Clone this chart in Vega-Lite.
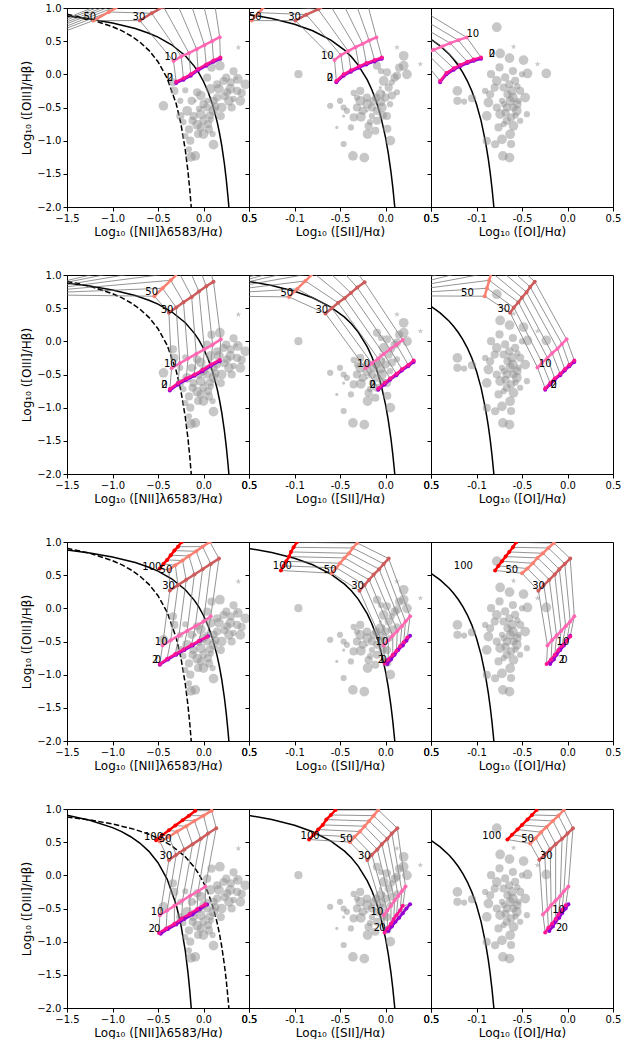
{
"$schema":"https://vega.github.io/schema/vega-lite/v6.json",
"padding":{"left":20,"top":2,"right":0,"bottom":0},
"config":{"font":"DejaVu Sans","view":{"stroke":"black","strokeWidth":1},
"axis":{"grid":false,"domainColor":"black","tickColor":"black","labelColor":"black","titleColor":"black","labelFont":"DejaVu Sans","titleFont":"DejaVu Sans","labelFontSize":10,"titleFontSize":12,"titleFontWeight":"normal","tickSize":4,"labelFlush":false,"labelPadding":2,"titlePadding":3,"labelOverlap":false},
"text":{"font":"DejaVu Sans"}},
"datasets":{
"cv":[
{"c":1,"t":"ke","x":-1.5,"y":0.880},{"c":1,"t":"ke","x":-1.25,"y":0.835},{"c":1,"t":"ke","x":-1.0,"y":0.775},{"c":1,"t":"ke","x":-0.75,"y":0.690},{"c":1,"t":"ke","x":-0.6,"y":0.620},{"c":1,"t":"ke","x":-0.5,"y":0.561},{"c":1,"t":"ke","x":-0.35,"y":0.446},{"c":1,"t":"ke","x":-0.2,"y":0.280},{"c":1,"t":"ke","x":-0.1,"y":0.120},{"c":1,"t":"ke","x":-0.05,"y":0.017},{"c":1,"t":"ke","x":0.0,"y":-0.108},{"c":1,"t":"ke","x":0.05,"y":-0.262},{"c":1,"t":"ke","x":0.1,"y":-0.459},{"c":1,"t":"ke","x":0.15,"y":-0.716},{"c":1,"t":"ke","x":0.175,"y":-0.878},{"c":1,"t":"ke","x":0.2,"y":-1.069},{"c":1,"t":"ke","x":0.23,"y":-1.352},{"c":1,"t":"ke","x":0.25,"y":-1.583},{"c":1,"t":"ke","x":0.27,"y":-1.86},{"c":1,"t":"ke","x":0.279,"y":-2.004},
{"c":1,"t":"ka","x":-1.5,"y":0.906},{"c":1,"t":"ka","x":-1.25,"y":0.831},{"c":1,"t":"ka","x":-1.0,"y":0.719},{"c":1,"t":"ka","x":-0.9,"y":0.658},{"c":1,"t":"ka","x":-0.8,"y":0.582},{"c":1,"t":"ka","x":-0.7,"y":0.487},{"c":1,"t":"ka","x":-0.6,"y":0.362},{"c":1,"t":"ka","x":-0.5,"y":0.191},{"c":1,"t":"ka","x":-0.4,"y":-0.056},{"c":1,"t":"ka","x":-0.3,"y":-0.443},{"c":1,"t":"ka","x":-0.25,"y":-0.733},{"c":1,"t":"ka","x":-0.2,"y":-1.14},{"c":1,"t":"ka","x":-0.17,"y":-1.473},{"c":1,"t":"ka","x":-0.15,"y":-1.75},{"c":1,"t":"ka","x":-0.135,"y":-1.997},{"c":1,"t":"ka","x":-0.13,"y":-2.089},
{"c":2,"t":"ke","x":-1.5,"y":0.904},{"c":2,"t":"ke","x":-1.25,"y":0.841},{"c":2,"t":"ke","x":-1.0,"y":0.755},{"c":2,"t":"ke","x":-0.8,"y":0.657},{"c":2,"t":"ke","x":-0.6,"y":0.517},{"c":2,"t":"ke","x":-0.45,"y":0.365},{"c":2,"t":"ke","x":-0.375,"y":0.264},{"c":2,"t":"ke","x":-0.3,"y":0.139},{"c":2,"t":"ke","x":-0.2,"y":-0.085},{"c":2,"t":"ke","x":-0.15,"y":-0.232},{"c":2,"t":"ke","x":-0.1,"y":-0.414},{"c":2,"t":"ke","x":-0.05,"y":-0.646},{"c":2,"t":"ke","x":0.0,"y":-0.95},{"c":2,"t":"ke","x":0.03,"y":-1.183},{"c":2,"t":"ke","x":0.06,"y":-1.469},{"c":2,"t":"ke","x":0.08,"y":-1.70},{"c":2,"t":"ke","x":0.1,"y":-1.973},{"c":2,"t":"ke","x":0.102,"y":-2.003},
{"c":3,"t":"ke","x":-1.5,"y":0.528},{"c":3,"t":"ke","x":-1.4,"y":0.429},{"c":3,"t":"ke","x":-1.3,"y":0.302},{"c":3,"t":"ke","x":-1.25,"y":0.224},{"c":3,"t":"ke","x":-1.2,"y":0.133},{"c":3,"t":"ke","x":-1.15,"y":0.026},{"c":3,"t":"ke","x":-1.1,"y":-0.101},{"c":3,"t":"ke","x":-1.05,"y":-0.257},{"c":3,"t":"ke","x":-1.0,"y":-0.450},{"c":3,"t":"ke","x":-0.95,"y":-0.698},{"c":3,"t":"ke","x":-0.9,"y":-1.025},{"c":3,"t":"ke","x":-0.87,"y":-1.277},{"c":3,"t":"ke","x":-0.85,"y":-1.478},{"c":3,"t":"ke","x":-0.83,"y":-1.712},{"c":3,"t":"ke","x":-0.81,"y":-1.988},{"c":3,"t":"ke","x":-0.805,"y":-2.07}
],
"gr":[
{"p":11,"k":0,"i":0,"x":-0.30,"y":-0.13},{"p":11,"k":0,"i":1,"x":-0.22,"y":-0.08},{"p":11,"k":0,"i":2,"x":-0.14,"y":-0.02},{"p":11,"k":0,"i":3,"x":-0.06,"y":0.06},{"p":11,"k":0,"i":4,"x":0.03,"y":0.13},{"p":11,"k":0,"i":5,"x":0.11,"y":0.19},{"p":11,"k":0,"i":6,"x":0.185,"y":0.235},
{"p":11,"k":2,"i":0,"x":-0.30,"y":-0.11},{"p":11,"k":2,"i":1,"x":-0.22,"y":-0.06},{"p":11,"k":2,"i":2,"x":-0.14,"y":0.0},{"p":11,"k":2,"i":3,"x":-0.06,"y":0.08},{"p":11,"k":2,"i":4,"x":0.03,"y":0.15},{"p":11,"k":2,"i":5,"x":0.11,"y":0.21},{"p":11,"k":2,"i":6,"x":0.185,"y":0.255},
{"p":11,"k":10,"i":0,"x":-0.33,"y":0.20},{"p":11,"k":10,"i":1,"x":-0.245,"y":0.27},{"p":11,"k":10,"i":2,"x":-0.16,"y":0.32},{"p":11,"k":10,"i":3,"x":-0.075,"y":0.38},{"p":11,"k":10,"i":4,"x":0.01,"y":0.44},{"p":11,"k":10,"i":5,"x":0.095,"y":0.50},{"p":11,"k":10,"i":6,"x":0.178,"y":0.56},
{"p":11,"k":30,"i":0,"x":-0.70,"y":0.81},{"p":11,"k":30,"i":1,"x":-0.57,"y":0.92},{"p":11,"k":30,"i":2,"x":-0.44,"y":1.02},{"p":11,"k":30,"i":3,"x":-0.31,"y":1.13},{"p":11,"k":30,"i":4,"x":-0.18,"y":1.24},{"p":11,"k":30,"i":5,"x":-0.05,"y":1.34},{"p":11,"k":30,"i":6,"x":0.08,"y":1.45},
{"p":11,"k":50,"i":0,"x":-1.21,"y":0.81},{"p":11,"k":50,"i":1,"x":-1.04,"y":0.94},{"p":11,"k":50,"i":2,"x":-0.87,"y":1.07},{"p":11,"k":50,"i":3,"x":-0.70,"y":1.20},{"p":11,"k":50,"i":4,"x":-0.53,"y":1.33},{"p":11,"k":50,"i":5,"x":-0.36,"y":1.46},{"p":11,"k":50,"i":6,"x":-0.19,"y":1.59},
{"p":11,"k":100,"i":0,"x":-2.2,"y":0.30},{"p":11,"k":100,"i":1,"x":-2.2,"y":0.33},{"p":11,"k":100,"i":2,"x":-2.2,"y":0.35},{"p":11,"k":100,"i":3,"x":-2.2,"y":0.38},{"p":11,"k":100,"i":4,"x":-2.2,"y":0.40},{"p":11,"k":100,"i":5,"x":-2.2,"y":0.43},{"p":11,"k":100,"i":6,"x":-2.2,"y":0.45},
{"p":12,"k":0,"i":0,"x":-0.54,"y":-0.12},{"p":12,"k":0,"i":1,"x":-0.46,"y":-0.02},{"p":12,"k":0,"i":2,"x":-0.38,"y":0.04},{"p":12,"k":0,"i":3,"x":-0.29,"y":0.10},{"p":12,"k":0,"i":4,"x":-0.21,"y":0.15},{"p":12,"k":0,"i":5,"x":-0.12,"y":0.195},{"p":12,"k":0,"i":6,"x":-0.04,"y":0.235},
{"p":12,"k":2,"i":0,"x":-0.54,"y":-0.10},{"p":12,"k":2,"i":1,"x":-0.46,"y":0.0},{"p":12,"k":2,"i":2,"x":-0.38,"y":0.06},{"p":12,"k":2,"i":3,"x":-0.29,"y":0.12},{"p":12,"k":2,"i":4,"x":-0.21,"y":0.17},{"p":12,"k":2,"i":5,"x":-0.12,"y":0.215},{"p":12,"k":2,"i":6,"x":-0.04,"y":0.255},
{"p":12,"k":10,"i":0,"x":-0.56,"y":0.215},{"p":12,"k":10,"i":1,"x":-0.49,"y":0.29},{"p":12,"k":10,"i":2,"x":-0.41,"y":0.35},{"p":12,"k":10,"i":3,"x":-0.33,"y":0.41},{"p":12,"k":10,"i":4,"x":-0.25,"y":0.46},{"p":12,"k":10,"i":5,"x":-0.18,"y":0.51},{"p":12,"k":10,"i":6,"x":-0.10,"y":0.557},
{"p":12,"k":30,"i":0,"x":-0.99,"y":0.81},{"p":12,"k":30,"i":1,"x":-0.87,"y":0.90},{"p":12,"k":30,"i":2,"x":-0.74,"y":0.98},{"p":12,"k":30,"i":3,"x":-0.62,"y":1.07},{"p":12,"k":30,"i":4,"x":-0.50,"y":1.16},{"p":12,"k":30,"i":5,"x":-0.37,"y":1.24},{"p":12,"k":30,"i":6,"x":-0.25,"y":1.33},
{"p":12,"k":50,"i":0,"x":-1.47,"y":0.81},{"p":12,"k":50,"i":1,"x":-1.39,"y":0.93},{"p":12,"k":50,"i":2,"x":-1.31,"y":1.05},{"p":12,"k":50,"i":3,"x":-1.23,"y":1.17},{"p":12,"k":50,"i":4,"x":-1.15,"y":1.29},{"p":12,"k":50,"i":5,"x":-1.07,"y":1.41},{"p":12,"k":50,"i":6,"x":-0.99,"y":1.53},
{"p":13,"k":0,"i":0,"x":-1.40,"y":-0.12},{"p":13,"k":0,"i":1,"x":-1.33,"y":0.0},{"p":13,"k":0,"i":2,"x":-1.25,"y":0.07},{"p":13,"k":0,"i":3,"x":-1.18,"y":0.12},{"p":13,"k":0,"i":4,"x":-1.10,"y":0.17},{"p":13,"k":0,"i":5,"x":-1.03,"y":0.205},{"p":13,"k":0,"i":6,"x":-0.95,"y":0.235},
{"p":13,"k":2,"i":0,"x":-1.40,"y":-0.10},{"p":13,"k":2,"i":1,"x":-1.33,"y":0.02},{"p":13,"k":2,"i":2,"x":-1.25,"y":0.09},{"p":13,"k":2,"i":3,"x":-1.18,"y":0.14},{"p":13,"k":2,"i":4,"x":-1.10,"y":0.19},{"p":13,"k":2,"i":5,"x":-1.03,"y":0.225},{"p":13,"k":2,"i":6,"x":-0.95,"y":0.255},
{"p":13,"k":10,"i":0,"x":-1.62,"y":0.27},{"p":13,"k":10,"i":1,"x":-1.55,"y":0.32},{"p":13,"k":10,"i":2,"x":-1.47,"y":0.37},{"p":13,"k":10,"i":3,"x":-1.38,"y":0.42},{"p":13,"k":10,"i":4,"x":-1.29,"y":0.47},{"p":13,"k":10,"i":5,"x":-1.20,"y":0.515},{"p":13,"k":10,"i":6,"x":-1.107,"y":0.557},
{"p":13,"k":30,"i":0,"x":-2.0,"y":0.60},{"p":13,"k":30,"i":1,"x":-1.95,"y":0.67},{"p":13,"k":30,"i":2,"x":-1.9,"y":0.74},{"p":13,"k":30,"i":3,"x":-1.85,"y":0.81},{"p":13,"k":30,"i":4,"x":-1.8,"y":0.88},{"p":13,"k":30,"i":5,"x":-1.75,"y":0.96},{"p":13,"k":30,"i":6,"x":-1.7,"y":1.05},
{"p":21,"k":0,"i":0,"x":-0.37,"y":-0.74},{"p":21,"k":0,"i":1,"x":-0.28,"y":-0.65},{"p":21,"k":0,"i":2,"x":-0.19,"y":-0.58},{"p":21,"k":0,"i":3,"x":-0.10,"y":-0.52},{"p":21,"k":0,"i":4,"x":-0.01,"y":-0.45},{"p":21,"k":0,"i":5,"x":0.08,"y":-0.37},{"p":21,"k":0,"i":6,"x":0.178,"y":-0.30},
{"p":21,"k":2,"i":0,"x":-0.37,"y":-0.72},{"p":21,"k":2,"i":1,"x":-0.28,"y":-0.63},{"p":21,"k":2,"i":2,"x":-0.19,"y":-0.56},{"p":21,"k":2,"i":3,"x":-0.10,"y":-0.50},{"p":21,"k":2,"i":4,"x":-0.01,"y":-0.43},{"p":21,"k":2,"i":5,"x":0.08,"y":-0.35},{"p":21,"k":2,"i":6,"x":0.178,"y":-0.28},
{"p":21,"k":10,"i":0,"x":-0.35,"y":-0.405},{"p":21,"k":10,"i":1,"x":-0.26,"y":-0.33},{"p":21,"k":10,"i":2,"x":-0.17,"y":-0.26},{"p":21,"k":10,"i":3,"x":-0.08,"y":-0.19},{"p":21,"k":10,"i":4,"x":0.01,"y":-0.12},{"p":21,"k":10,"i":5,"x":0.10,"y":-0.05},{"p":21,"k":10,"i":6,"x":0.19,"y":0.03},
{"p":21,"k":30,"i":0,"x":-0.38,"y":0.43},{"p":21,"k":30,"i":1,"x":-0.30,"y":0.51},{"p":21,"k":30,"i":2,"x":-0.22,"y":0.59},{"p":21,"k":30,"i":3,"x":-0.13,"y":0.67},{"p":21,"k":30,"i":4,"x":-0.05,"y":0.75},{"p":21,"k":30,"i":5,"x":0.03,"y":0.83},{"p":21,"k":30,"i":6,"x":0.11,"y":0.90},
{"p":21,"k":50,"i":0,"x":-0.54,"y":0.68},{"p":21,"k":50,"i":1,"x":-0.45,"y":0.80},{"p":21,"k":50,"i":2,"x":-0.36,"y":0.92},{"p":21,"k":50,"i":3,"x":-0.27,"y":1.04},{"p":21,"k":50,"i":4,"x":-0.18,"y":1.16},{"p":21,"k":50,"i":5,"x":-0.09,"y":1.28},{"p":21,"k":50,"i":6,"x":0.0,"y":1.40},
{"p":21,"k":100,"i":0,"x":-2.3,"y":0.71},{"p":21,"k":100,"i":1,"x":-2.3,"y":0.70},{"p":21,"k":100,"i":2,"x":-2.3,"y":0.69},{"p":21,"k":100,"i":3,"x":-2.3,"y":0.68},{"p":21,"k":100,"i":4,"x":-2.3,"y":0.67},{"p":21,"k":100,"i":5,"x":-2.3,"y":0.67},{"p":21,"k":100,"i":6,"x":-2.3,"y":0.66},
{"p":22,"k":0,"i":0,"x":-0.08,"y":-0.73},{"p":22,"k":0,"i":1,"x":-0.01,"y":-0.65},{"p":22,"k":0,"i":2,"x":0.05,"y":-0.58},{"p":22,"k":0,"i":3,"x":0.12,"y":-0.51},{"p":22,"k":0,"i":4,"x":0.18,"y":-0.44},{"p":22,"k":0,"i":5,"x":0.25,"y":-0.375},{"p":22,"k":0,"i":6,"x":0.31,"y":-0.31},
{"p":22,"k":2,"i":0,"x":-0.08,"y":-0.71},{"p":22,"k":2,"i":1,"x":-0.01,"y":-0.63},{"p":22,"k":2,"i":2,"x":0.05,"y":-0.56},{"p":22,"k":2,"i":3,"x":0.12,"y":-0.49},{"p":22,"k":2,"i":4,"x":0.18,"y":-0.42},{"p":22,"k":2,"i":5,"x":0.25,"y":-0.355},{"p":22,"k":2,"i":6,"x":0.31,"y":-0.29},
{"p":22,"k":10,"i":0,"x":-0.22,"y":-0.405},{"p":22,"k":10,"i":1,"x":-0.15,"y":-0.33},{"p":22,"k":10,"i":2,"x":-0.08,"y":-0.26},{"p":22,"k":10,"i":3,"x":-0.02,"y":-0.19},{"p":22,"k":10,"i":4,"x":0.05,"y":-0.12},{"p":22,"k":10,"i":5,"x":0.12,"y":-0.05},{"p":22,"k":10,"i":6,"x":0.19,"y":0.02},
{"p":22,"k":30,"i":0,"x":-0.66,"y":0.42},{"p":22,"k":30,"i":1,"x":-0.59,"y":0.50},{"p":22,"k":30,"i":2,"x":-0.52,"y":0.58},{"p":22,"k":30,"i":3,"x":-0.45,"y":0.65},{"p":22,"k":30,"i":4,"x":-0.38,"y":0.73},{"p":22,"k":30,"i":5,"x":-0.31,"y":0.81},{"p":22,"k":30,"i":6,"x":-0.23,"y":0.89},
{"p":22,"k":50,"i":0,"x":-1.06,"y":0.67},{"p":22,"k":50,"i":1,"x":-0.97,"y":0.79},{"p":22,"k":50,"i":2,"x":-0.88,"y":0.91},{"p":22,"k":50,"i":3,"x":-0.79,"y":1.03},{"p":22,"k":50,"i":4,"x":-0.70,"y":1.15},{"p":22,"k":50,"i":5,"x":-0.61,"y":1.27},{"p":22,"k":50,"i":6,"x":-0.52,"y":1.39},
{"p":22,"k":100,"i":0,"x":-2.3,"y":0.69},{"p":22,"k":100,"i":1,"x":-2.3,"y":0.68},{"p":22,"k":100,"i":2,"x":-2.3,"y":0.67},{"p":22,"k":100,"i":3,"x":-2.3,"y":0.66},{"p":22,"k":100,"i":4,"x":-2.3,"y":0.65},{"p":22,"k":100,"i":5,"x":-2.3,"y":0.64},{"p":22,"k":100,"i":6,"x":-2.3,"y":0.63},
{"p":23,"k":0,"i":0,"x":-0.245,"y":-0.73},{"p":23,"k":0,"i":1,"x":-0.19,"y":-0.65},{"p":23,"k":0,"i":2,"x":-0.14,"y":-0.58},{"p":23,"k":0,"i":3,"x":-0.08,"y":-0.51},{"p":23,"k":0,"i":4,"x":-0.03,"y":-0.44},{"p":23,"k":0,"i":5,"x":0.02,"y":-0.375},{"p":23,"k":0,"i":6,"x":0.075,"y":-0.31},
{"p":23,"k":2,"i":0,"x":-0.245,"y":-0.71},{"p":23,"k":2,"i":1,"x":-0.19,"y":-0.63},{"p":23,"k":2,"i":2,"x":-0.14,"y":-0.56},{"p":23,"k":2,"i":3,"x":-0.08,"y":-0.49},{"p":23,"k":2,"i":4,"x":-0.03,"y":-0.42},{"p":23,"k":2,"i":5,"x":0.02,"y":-0.355},{"p":23,"k":2,"i":6,"x":0.075,"y":-0.29},
{"p":23,"k":10,"i":0,"x":-0.33,"y":-0.395},{"p":23,"k":10,"i":1,"x":-0.28,"y":-0.32},{"p":23,"k":10,"i":2,"x":-0.22,"y":-0.25},{"p":23,"k":10,"i":3,"x":-0.17,"y":-0.18},{"p":23,"k":10,"i":4,"x":-0.11,"y":-0.11},{"p":23,"k":10,"i":5,"x":-0.06,"y":-0.04},{"p":23,"k":10,"i":6,"x":-0.01,"y":0.03},
{"p":23,"k":30,"i":0,"x":-0.63,"y":0.43},{"p":23,"k":30,"i":1,"x":-0.59,"y":0.51},{"p":23,"k":30,"i":2,"x":-0.54,"y":0.59},{"p":23,"k":30,"i":3,"x":-0.50,"y":0.66},{"p":23,"k":30,"i":4,"x":-0.45,"y":0.74},{"p":23,"k":30,"i":5,"x":-0.41,"y":0.82},{"p":23,"k":30,"i":6,"x":-0.36,"y":0.90},
{"p":23,"k":50,"i":0,"x":-0.91,"y":0.68},{"p":23,"k":50,"i":1,"x":-0.885,"y":0.80},{"p":23,"k":50,"i":2,"x":-0.86,"y":0.92},{"p":23,"k":50,"i":3,"x":-0.835,"y":1.04},{"p":23,"k":50,"i":4,"x":-0.81,"y":1.16},{"p":23,"k":50,"i":5,"x":-0.785,"y":1.28},{"p":23,"k":50,"i":6,"x":-0.76,"y":1.40},
{"p":23,"k":100,"i":0,"x":-2.3,"y":0.69},{"p":23,"k":100,"i":1,"x":-2.3,"y":0.68},{"p":23,"k":100,"i":2,"x":-2.3,"y":0.67},{"p":23,"k":100,"i":3,"x":-2.3,"y":0.66},{"p":23,"k":100,"i":4,"x":-2.3,"y":0.65},{"p":23,"k":100,"i":5,"x":-2.3,"y":0.64},{"p":23,"k":100,"i":6,"x":-2.3,"y":0.63},
{"p":31,"k":0,"i":0,"x":-0.48,"y":-0.85},{"p":31,"k":0,"i":1,"x":-0.39,"y":-0.77},{"p":31,"k":0,"i":2,"x":-0.30,"y":-0.70},{"p":31,"k":0,"i":3,"x":-0.21,"y":-0.63},{"p":31,"k":0,"i":4,"x":-0.12,"y":-0.56},{"p":31,"k":0,"i":5,"x":-0.04,"y":-0.49},{"p":31,"k":0,"i":6,"x":0.05,"y":-0.42},
{"p":31,"k":2,"i":0,"x":-0.48,"y":-0.84},{"p":31,"k":2,"i":1,"x":-0.40,"y":-0.76},{"p":31,"k":2,"i":2,"x":-0.31,"y":-0.69},{"p":31,"k":2,"i":3,"x":-0.22,"y":-0.62},{"p":31,"k":2,"i":4,"x":-0.13,"y":-0.55},{"p":31,"k":2,"i":5,"x":-0.05,"y":-0.49},{"p":31,"k":2,"i":6,"x":0.04,"y":-0.43},
{"p":31,"k":10,"i":0,"x":-0.45,"y":-0.56},{"p":31,"k":10,"i":1,"x":-0.36,"y":-0.48},{"p":31,"k":10,"i":2,"x":-0.27,"y":-0.41},{"p":31,"k":10,"i":3,"x":-0.18,"y":-0.34},{"p":31,"k":10,"i":4,"x":-0.09,"y":-0.27},{"p":31,"k":10,"i":5,"x":0.0,"y":-0.20},{"p":31,"k":10,"i":6,"x":0.08,"y":-0.12},
{"p":31,"k":30,"i":0,"x":-0.37,"y":0.27},{"p":31,"k":30,"i":1,"x":-0.28,"y":0.35},{"p":31,"k":30,"i":2,"x":-0.19,"y":0.43},{"p":31,"k":30,"i":3,"x":-0.10,"y":0.51},{"p":31,"k":30,"i":4,"x":-0.01,"y":0.59},{"p":31,"k":30,"i":5,"x":0.08,"y":0.67},{"p":31,"k":30,"i":6,"x":0.17,"y":0.75},
{"p":31,"k":50,"i":0,"x":-0.38,"y":0.58},{"p":31,"k":50,"i":1,"x":-0.31,"y":0.65},{"p":31,"k":50,"i":2,"x":-0.23,"y":0.72},{"p":31,"k":50,"i":3,"x":-0.16,"y":0.79},{"p":31,"k":50,"i":4,"x":-0.08,"y":0.86},{"p":31,"k":50,"i":5,"x":-0.01,"y":0.93},{"p":31,"k":50,"i":6,"x":0.07,"y":1.0},
{"p":31,"k":100,"i":0,"x":-0.48,"y":0.60},{"p":31,"k":100,"i":1,"x":-0.44,"y":0.67},{"p":31,"k":100,"i":2,"x":-0.40,"y":0.73},{"p":31,"k":100,"i":3,"x":-0.36,"y":0.80},{"p":31,"k":100,"i":4,"x":-0.32,"y":0.87},{"p":31,"k":100,"i":5,"x":-0.28,"y":0.93},{"p":31,"k":100,"i":6,"x":-0.24,"y":1.0},
{"p":32,"k":0,"i":0,"x":0.02,"y":-0.84},{"p":32,"k":0,"i":1,"x":0.06,"y":-0.77},{"p":32,"k":0,"i":2,"x":0.10,"y":-0.70},{"p":32,"k":0,"i":3,"x":0.14,"y":-0.63},{"p":32,"k":0,"i":4,"x":0.19,"y":-0.56},{"p":32,"k":0,"i":5,"x":0.23,"y":-0.49},{"p":32,"k":0,"i":6,"x":0.27,"y":-0.415},
{"p":32,"k":2,"i":0,"x":-0.01,"y":-0.83},{"p":32,"k":2,"i":1,"x":0.03,"y":-0.77},{"p":32,"k":2,"i":2,"x":0.08,"y":-0.70},{"p":32,"k":2,"i":3,"x":0.12,"y":-0.64},{"p":32,"k":2,"i":4,"x":0.16,"y":-0.57},{"p":32,"k":2,"i":5,"x":0.20,"y":-0.51},{"p":32,"k":2,"i":6,"x":0.24,"y":-0.44},
{"p":32,"k":10,"i":0,"x":-0.02,"y":-0.56},{"p":32,"k":10,"i":1,"x":0.03,"y":-0.48},{"p":32,"k":10,"i":2,"x":0.08,"y":-0.41},{"p":32,"k":10,"i":3,"x":0.13,"y":-0.34},{"p":32,"k":10,"i":4,"x":0.18,"y":-0.27},{"p":32,"k":10,"i":5,"x":0.22,"y":-0.20},{"p":32,"k":10,"i":6,"x":0.27,"y":-0.12},
{"p":32,"k":30,"i":0,"x":-0.285,"y":0.265},{"p":32,"k":30,"i":1,"x":-0.23,"y":0.35},{"p":32,"k":30,"i":2,"x":-0.18,"y":0.43},{"p":32,"k":30,"i":3,"x":-0.13,"y":0.51},{"p":32,"k":30,"i":4,"x":-0.07,"y":0.59},{"p":32,"k":30,"i":5,"x":-0.02,"y":0.67},{"p":32,"k":30,"i":6,"x":0.035,"y":0.75},
{"p":32,"k":50,"i":0,"x":-0.59,"y":0.53},{"p":32,"k":50,"i":1,"x":-0.54,"y":0.61},{"p":32,"k":50,"i":2,"x":-0.50,"y":0.68},{"p":32,"k":50,"i":3,"x":-0.45,"y":0.76},{"p":32,"k":50,"i":4,"x":-0.40,"y":0.83},{"p":32,"k":50,"i":5,"x":-0.36,"y":0.91},{"p":32,"k":50,"i":6,"x":-0.31,"y":0.985},
{"p":32,"k":100,"i":0,"x":-1.15,"y":0.57},{"p":32,"k":100,"i":1,"x":-1.12,"y":0.64},{"p":32,"k":100,"i":2,"x":-1.09,"y":0.71},{"p":32,"k":100,"i":3,"x":-1.06,"y":0.78},{"p":32,"k":100,"i":4,"x":-1.04,"y":0.85},{"p":32,"k":100,"i":5,"x":-1.01,"y":0.92},{"p":32,"k":100,"i":6,"x":-0.975,"y":0.995},
{"p":33,"k":0,"i":0,"x":-0.19,"y":-0.84},{"p":33,"k":0,"i":1,"x":-0.15,"y":-0.77},{"p":33,"k":0,"i":2,"x":-0.12,"y":-0.70},{"p":33,"k":0,"i":3,"x":-0.08,"y":-0.63},{"p":33,"k":0,"i":4,"x":-0.04,"y":-0.56},{"p":33,"k":0,"i":5,"x":-0.01,"y":-0.49},{"p":33,"k":0,"i":6,"x":0.03,"y":-0.415},
{"p":33,"k":2,"i":0,"x":-0.23,"y":-0.84},{"p":33,"k":2,"i":1,"x":-0.18,"y":-0.77},{"p":33,"k":2,"i":2,"x":-0.14,"y":-0.70},{"p":33,"k":2,"i":3,"x":-0.10,"y":-0.63},{"p":33,"k":2,"i":4,"x":-0.06,"y":-0.56},{"p":33,"k":2,"i":5,"x":-0.01,"y":-0.49},{"p":33,"k":2,"i":6,"x":0.03,"y":-0.425},
{"p":33,"k":10,"i":0,"x":-0.22,"y":-0.56},{"p":33,"k":10,"i":1,"x":-0.17,"y":-0.48},{"p":33,"k":10,"i":2,"x":-0.12,"y":-0.41},{"p":33,"k":10,"i":3,"x":-0.07,"y":-0.34},{"p":33,"k":10,"i":4,"x":-0.02,"y":-0.27},{"p":33,"k":10,"i":5,"x":0.03,"y":-0.20},{"p":33,"k":10,"i":6,"x":0.075,"y":-0.12},
{"p":33,"k":30,"i":0,"x":-0.32,"y":0.265},{"p":33,"k":30,"i":1,"x":-0.26,"y":0.35},{"p":33,"k":30,"i":2,"x":-0.20,"y":0.43},{"p":33,"k":30,"i":3,"x":-0.14,"y":0.51},{"p":33,"k":30,"i":4,"x":-0.09,"y":0.59},{"p":33,"k":30,"i":5,"x":-0.03,"y":0.67},{"p":33,"k":30,"i":6,"x":0.03,"y":0.75},
{"p":33,"k":50,"i":0,"x":-0.50,"y":0.53},{"p":33,"k":50,"i":1,"x":-0.44,"y":0.60},{"p":33,"k":50,"i":2,"x":-0.38,"y":0.68},{"p":33,"k":50,"i":3,"x":-0.33,"y":0.76},{"p":33,"k":50,"i":4,"x":-0.27,"y":0.83},{"p":33,"k":50,"i":5,"x":-0.21,"y":0.91},{"p":33,"k":50,"i":6,"x":-0.15,"y":0.985},
{"p":33,"k":100,"i":0,"x":-0.795,"y":0.57},{"p":33,"k":100,"i":1,"x":-0.76,"y":0.64},{"p":33,"k":100,"i":2,"x":-0.72,"y":0.71},{"p":33,"k":100,"i":3,"x":-0.68,"y":0.78},{"p":33,"k":100,"i":4,"x":-0.64,"y":0.85},{"p":33,"k":100,"i":5,"x":-0.60,"y":0.92},{"p":33,"k":100,"i":6,"x":-0.564,"y":0.995},
{"p":41,"k":0,"i":0,"x":-0.47,"y":-0.88},{"p":41,"k":0,"i":1,"x":-0.39,"y":-0.81},{"p":41,"k":0,"i":2,"x":-0.30,"y":-0.74},{"p":41,"k":0,"i":3,"x":-0.21,"y":-0.66},{"p":41,"k":0,"i":4,"x":-0.12,"y":-0.59},{"p":41,"k":0,"i":5,"x":-0.04,"y":-0.51},{"p":41,"k":0,"i":6,"x":0.04,"y":-0.44},
{"p":41,"k":2,"i":0,"x":-0.49,"y":-0.87},{"p":41,"k":2,"i":1,"x":-0.41,"y":-0.80},{"p":41,"k":2,"i":2,"x":-0.32,"y":-0.73},{"p":41,"k":2,"i":3,"x":-0.24,"y":-0.65},{"p":41,"k":2,"i":4,"x":-0.15,"y":-0.58},{"p":41,"k":2,"i":5,"x":-0.07,"y":-0.51},{"p":41,"k":2,"i":6,"x":0.02,"y":-0.435},
{"p":41,"k":10,"i":0,"x":-0.48,"y":-0.60},{"p":41,"k":10,"i":1,"x":-0.40,"y":-0.53},{"p":41,"k":10,"i":2,"x":-0.32,"y":-0.46},{"p":41,"k":10,"i":3,"x":-0.23,"y":-0.38},{"p":41,"k":10,"i":4,"x":-0.15,"y":-0.31},{"p":41,"k":10,"i":5,"x":-0.06,"y":-0.24},{"p":41,"k":10,"i":6,"x":0.02,"y":-0.17},
{"p":41,"k":30,"i":0,"x":-0.38,"y":0.23},{"p":41,"k":30,"i":1,"x":-0.30,"y":0.31},{"p":41,"k":30,"i":2,"x":-0.21,"y":0.39},{"p":41,"k":30,"i":3,"x":-0.12,"y":0.47},{"p":41,"k":30,"i":4,"x":-0.03,"y":0.55},{"p":41,"k":30,"i":5,"x":0.05,"y":0.63},{"p":41,"k":30,"i":6,"x":0.14,"y":0.71},
{"p":41,"k":50,"i":0,"x":-0.48,"y":0.51},{"p":41,"k":50,"i":1,"x":-0.38,"y":0.58},{"p":41,"k":50,"i":2,"x":-0.29,"y":0.66},{"p":41,"k":50,"i":3,"x":-0.19,"y":0.74},{"p":41,"k":50,"i":4,"x":-0.10,"y":0.82},{"p":41,"k":50,"i":5,"x":0.0,"y":0.90},{"p":41,"k":50,"i":6,"x":0.09,"y":0.975},
{"p":41,"k":100,"i":0,"x":-0.52,"y":0.53},{"p":41,"k":100,"i":1,"x":-0.45,"y":0.61},{"p":41,"k":100,"i":2,"x":-0.38,"y":0.68},{"p":41,"k":100,"i":3,"x":-0.31,"y":0.75},{"p":41,"k":100,"i":4,"x":-0.23,"y":0.83},{"p":41,"k":100,"i":5,"x":-0.16,"y":0.90},{"p":41,"k":100,"i":6,"x":-0.09,"y":0.975},
{"p":42,"k":0,"i":0,"x":0.03,"y":-0.84},{"p":42,"k":0,"i":1,"x":0.07,"y":-0.77},{"p":42,"k":0,"i":2,"x":0.11,"y":-0.70},{"p":42,"k":0,"i":3,"x":0.15,"y":-0.64},{"p":42,"k":0,"i":4,"x":0.19,"y":-0.57},{"p":42,"k":0,"i":5,"x":0.23,"y":-0.50},{"p":42,"k":0,"i":6,"x":0.27,"y":-0.435},
{"p":42,"k":2,"i":0,"x":-0.01,"y":-0.86},{"p":42,"k":2,"i":1,"x":0.02,"y":-0.80},{"p":42,"k":2,"i":2,"x":0.06,"y":-0.73},{"p":42,"k":2,"i":3,"x":0.09,"y":-0.66},{"p":42,"k":2,"i":4,"x":0.12,"y":-0.60},{"p":42,"k":2,"i":5,"x":0.16,"y":-0.53},{"p":42,"k":2,"i":6,"x":0.19,"y":-0.46},
{"p":42,"k":10,"i":0,"x":-0.02,"y":-0.60},{"p":42,"k":10,"i":1,"x":0.02,"y":-0.53},{"p":42,"k":10,"i":2,"x":0.06,"y":-0.46},{"p":42,"k":10,"i":3,"x":0.10,"y":-0.38},{"p":42,"k":10,"i":4,"x":0.14,"y":-0.31},{"p":42,"k":10,"i":5,"x":0.18,"y":-0.24},{"p":42,"k":10,"i":6,"x":0.22,"y":-0.17},
{"p":42,"k":30,"i":0,"x":-0.20,"y":0.23},{"p":42,"k":30,"i":1,"x":-0.15,"y":0.31},{"p":42,"k":30,"i":2,"x":-0.09,"y":0.39},{"p":42,"k":30,"i":3,"x":-0.04,"y":0.47},{"p":42,"k":30,"i":4,"x":0.02,"y":0.55},{"p":42,"k":30,"i":5,"x":0.07,"y":0.63},{"p":42,"k":30,"i":6,"x":0.13,"y":0.71},
{"p":42,"k":50,"i":0,"x":-0.39,"y":0.50},{"p":42,"k":50,"i":1,"x":-0.34,"y":0.58},{"p":42,"k":50,"i":2,"x":-0.28,"y":0.66},{"p":42,"k":50,"i":3,"x":-0.23,"y":0.74},{"p":42,"k":50,"i":4,"x":-0.18,"y":0.82},{"p":42,"k":50,"i":5,"x":-0.13,"y":0.90},{"p":42,"k":50,"i":6,"x":-0.08,"y":0.985},
{"p":42,"k":100,"i":0,"x":-0.84,"y":0.54},{"p":42,"k":100,"i":1,"x":-0.79,"y":0.61},{"p":42,"k":100,"i":2,"x":-0.74,"y":0.69},{"p":42,"k":100,"i":3,"x":-0.69,"y":0.76},{"p":42,"k":100,"i":4,"x":-0.65,"y":0.84},{"p":42,"k":100,"i":5,"x":-0.60,"y":0.91},{"p":42,"k":100,"i":6,"x":-0.55,"y":0.985},
{"p":43,"k":0,"i":0,"x":-0.20,"y":-0.84},{"p":43,"k":0,"i":1,"x":-0.16,"y":-0.77},{"p":43,"k":0,"i":2,"x":-0.13,"y":-0.70},{"p":43,"k":0,"i":3,"x":-0.09,"y":-0.64},{"p":43,"k":0,"i":4,"x":-0.06,"y":-0.57},{"p":43,"k":0,"i":5,"x":-0.02,"y":-0.50},{"p":43,"k":0,"i":6,"x":0.01,"y":-0.435},
{"p":43,"k":2,"i":0,"x":-0.245,"y":-0.86},{"p":43,"k":2,"i":1,"x":-0.21,"y":-0.79},{"p":43,"k":2,"i":2,"x":-0.17,"y":-0.73},{"p":43,"k":2,"i":3,"x":-0.13,"y":-0.66},{"p":43,"k":2,"i":4,"x":-0.10,"y":-0.59},{"p":43,"k":2,"i":5,"x":-0.06,"y":-0.52},{"p":43,"k":2,"i":6,"x":-0.02,"y":-0.45},
{"p":43,"k":10,"i":0,"x":-0.27,"y":-0.59},{"p":43,"k":10,"i":1,"x":-0.22,"y":-0.52},{"p":43,"k":10,"i":2,"x":-0.18,"y":-0.45},{"p":43,"k":10,"i":3,"x":-0.13,"y":-0.38},{"p":43,"k":10,"i":4,"x":-0.08,"y":-0.31},{"p":43,"k":10,"i":5,"x":-0.04,"y":-0.24},{"p":43,"k":10,"i":6,"x":0.01,"y":-0.17},
{"p":43,"k":30,"i":0,"x":-0.31,"y":0.235},{"p":43,"k":30,"i":1,"x":-0.25,"y":0.31},{"p":43,"k":30,"i":2,"x":-0.19,"y":0.39},{"p":43,"k":30,"i":3,"x":-0.13,"y":0.47},{"p":43,"k":30,"i":4,"x":-0.06,"y":0.55},{"p":43,"k":30,"i":5,"x":0.0,"y":0.63},{"p":43,"k":30,"i":6,"x":0.06,"y":0.71},
{"p":43,"k":50,"i":0,"x":-0.41,"y":0.48},{"p":43,"k":50,"i":1,"x":-0.35,"y":0.56},{"p":43,"k":50,"i":2,"x":-0.29,"y":0.65},{"p":43,"k":50,"i":3,"x":-0.23,"y":0.73},{"p":43,"k":50,"i":4,"x":-0.16,"y":0.82},{"p":43,"k":50,"i":5,"x":-0.10,"y":0.90},{"p":43,"k":50,"i":6,"x":-0.04,"y":0.985},
{"p":43,"k":100,"i":0,"x":-0.66,"y":0.54},{"p":43,"k":100,"i":1,"x":-0.61,"y":0.61},{"p":43,"k":100,"i":2,"x":-0.55,"y":0.69},{"p":43,"k":100,"i":3,"x":-0.50,"y":0.76},{"p":43,"k":100,"i":4,"x":-0.44,"y":0.84},{"p":43,"k":100,"i":5,"x":-0.39,"y":0.91},{"p":43,"k":100,"i":6,"x":-0.34,"y":0.985}
],
"ga":[
{"c":1,"x":-0.44,"y":-0.475,"s":4,"m":"o"},{"c":1,"x":-0.336,"y":-0.12,"s":3,"m":"o"},{"c":1,"x":-0.32,"y":-0.25,"s":3,"m":"o"},{"c":1,"x":-0.145,"y":-1.0,"s":3,"m":"o"},{"c":1,"x":-0.138,"y":-1.245,"s":4,"m":"o"},{"c":1,"x":-0.09,"y":-1.23,"s":4,"m":"o"},{"c":1,"x":-0.16,"y":-1.13,"s":2,"m":"o"},{"c":1,"x":0.0,"y":-0.90,"s":4,"m":"o"},{"c":1,"x":0.11,"y":-1.06,"s":4,"m":"o"},{"c":1,"x":0.06,"y":-0.83,"s":3,"m":"o"},{"c":1,"x":0.18,"y":0.13,"s":4,"m":"o"},{"c":1,"x":0.088,"y":0.10,"s":3,"m":"o"},{"c":1,"x":0.377,"y":-0.07,"s":4,"m":"o"},{"c":1,"x":0.33,"y":0.045,"s":3,"m":"o"},{"c":1,"x":0.46,"y":-0.15,"s":4,"m":"o"},{"c":1,"x":0.295,"y":-0.22,"s":4,"m":"o"},{"c":1,"x":0.22,"y":-0.10,"s":3,"m":"o"},{"c":1,"x":0.28,"y":-0.40,"s":4,"m":"o"},{"c":1,"x":0.405,"y":-0.40,"s":4,"m":"o"},{"c":1,"x":0.15,"y":-0.35,"s":3,"m":"o"},{"c":1,"x":-0.03,"y":-0.32,"s":4,"m":"o"},{"c":1,"x":-0.13,"y":-0.40,"s":3,"m":"o"},{"c":1,"x":-0.18,"y":-0.55,"s":4,"m":"o"},{"c":1,"x":-0.11,"y":-0.63,"s":3,"m":"o"},{"c":1,"x":-0.03,"y":-0.60,"s":4,"m":"o"},{"c":1,"x":0.04,"y":-0.50,"s":3,"m":"o"},{"c":1,"x":0.11,"y":-0.55,"s":4,"m":"o"},{"c":1,"x":0.0,"y":-0.70,"s":3,"m":"o"},{"c":1,"x":-0.07,"y":-0.76,"s":4,"m":"o"},{"c":1,"x":0.08,"y":-0.68,"s":2,"m":"o"},{"c":1,"x":0.19,"y":-0.63,"s":3,"m":"o"},{"c":1,"x":-0.255,"y":-0.63,"s":3,"m":"o"},{"c":1,"x":-0.16,"y":-0.83,"s":3,"m":"o"},{"c":1,"x":-0.20,"y":-0.24,"s":2,"m":"o"},{"c":1,"x":-0.07,"y":-0.27,"s":3,"m":"o"},{"c":1,"x":0.077,"y":-0.22,"s":4,"m":"o"},{"c":1,"x":0.26,"y":-0.27,"s":3,"m":"o"},{"c":1,"x":0.33,"y":-0.37,"s":2,"m":"o"},{"c":1,"x":0.11,"y":-0.40,"s":3,"m":"o"},{"c":1,"x":0.04,"y":-0.40,"s":2,"m":"o"},{"c":1,"x":-0.015,"y":-0.50,"s":1,"m":"o"},{"c":1,"x":0.02,"y":-0.63,"s":1,"m":"o"},{"c":1,"x":-0.03,"y":-0.80,"s":3,"m":"o"},{"c":1,"x":-0.09,"y":-0.40,"s":1,"m":"o"},{"c":1,"x":0.15,"y":-0.15,"s":3,"m":"o"},{"c":1,"x":0.37,"y":-0.25,"s":3,"m":"o"},{"c":1,"x":0.31,"y":-0.50,"s":3,"m":"o"},{"c":1,"x":0.04,"y":-0.05,"s":3,"m":"o"},{"c":1,"x":-0.255,"y":-0.40,"s":2,"m":"o"},{"c":1,"x":-0.20,"y":-0.93,"s":2,"m":"o"},
{"c":1,"x":0.0,"y":-0.45,"s":3,"m":"o"},{"c":1,"x":0.07,"y":-0.62,"s":3,"m":"o"},{"c":1,"x":-0.05,"y":-0.52,"s":2,"m":"o"},{"c":1,"x":0.13,"y":-0.48,"s":3,"m":"o"},{"c":1,"x":0.2,"y":-0.5,"s":4,"m":"o"},{"c":1,"x":0.23,"y":-0.33,"s":3,"m":"o"},{"c":1,"x":0.17,"y":-0.22,"s":4,"m":"o"},{"c":1,"x":-0.12,"y":-0.70,"s":3,"m":"o"},{"c":1,"x":0.05,"y":-0.75,"s":3,"m":"o"},{"c":1,"x":-0.06,"y":-0.9,"s":3,"m":"o"},{"c":1,"x":0.25,"y":-0.05,"s":3,"m":"o"},{"c":1,"x":0.30,"y":-0.12,"s":3,"m":"o"},{"c":1,"x":0.42,"y":-0.28,"s":3,"m":"o"},{"c":1,"x":0.10,"y":-0.9,"s":2,"m":"o"},{"c":1,"x":-0.22,"y":-0.72,"s":2,"m":"o"},
{"c":1,"x":0.383,"y":0.405,"s":2,"m":"s"},{"c":1,"x":0.36,"y":-0.06,"s":2,"m":"s"},
{"c":2,"x":-0.957,"y":0.003,"s":3,"m":"o"},{"c":2,"x":-0.608,"y":-0.475,"s":2,"m":"o"},{"c":2,"x":-0.535,"y":-0.80,"s":1,"m":"o"},{"c":2,"x":-0.50,"y":-0.40,"s":2,"m":"o"},{"c":2,"x":-0.46,"y":-1.05,"s":2,"m":"o"},{"c":2,"x":-0.358,"y":-1.23,"s":4,"m":"o"},{"c":2,"x":-0.233,"y":-1.256,"s":4,"m":"o"},{"c":2,"x":-0.35,"y":-0.65,"s":3,"m":"o"},{"c":2,"x":-0.27,"y":-0.64,"s":4,"m":"o"},{"c":2,"x":-0.186,"y":-0.78,"s":3,"m":"o"},{"c":2,"x":-0.197,"y":-0.90,"s":4,"m":"o"},{"c":2,"x":-0.094,"y":-0.70,"s":3,"m":"o"},{"c":2,"x":0.053,"y":-1.0,"s":4,"m":"o"},{"c":2,"x":0.20,"y":0.28,"s":4,"m":"o"},{"c":2,"x":0.20,"y":0.13,"s":4,"m":"o"},{"c":2,"x":0.236,"y":0.0,"s":4,"m":"o"},{"c":2,"x":0.126,"y":-0.02,"s":3,"m":"o"},{"c":2,"x":0.016,"y":0.03,"s":3,"m":"o"},{"c":2,"x":-0.094,"y":0.13,"s":3,"m":"o"},{"c":2,"x":-0.02,"y":-0.10,"s":4,"m":"o"},{"c":2,"x":0.035,"y":-0.20,"s":3,"m":"o"},{"c":2,"x":0.07,"y":-0.32,"s":3,"m":"o"},{"c":2,"x":-0.057,"y":-0.30,"s":4,"m":"o"},{"c":2,"x":-0.13,"y":-0.40,"s":3,"m":"o"},{"c":2,"x":-0.204,"y":-0.35,"s":3,"m":"o"},{"c":2,"x":-0.278,"y":-0.40,"s":4,"m":"o"},{"c":2,"x":-0.314,"y":-0.50,"s":3,"m":"o"},{"c":2,"x":-0.424,"y":-0.55,"s":2,"m":"o"},{"c":2,"x":-0.46,"y":-0.50,"s":2,"m":"o"},{"c":2,"x":-0.04,"y":-0.50,"s":4,"m":"o"},{"c":2,"x":0.016,"y":-0.63,"s":3,"m":"o"},{"c":2,"x":-0.094,"y":-0.55,"s":3,"m":"o"},{"c":2,"x":-0.15,"y":-0.63,"s":2,"m":"o"},{"c":2,"x":-0.204,"y":-0.55,"s":1,"m":"o"},{"c":2,"x":-0.278,"y":-0.25,"s":3,"m":"o"},{"c":2,"x":0.126,"y":-0.27,"s":2,"m":"o"},{"c":2,"x":-0.02,"y":-0.27,"s":1,"m":"o"},{"c":2,"x":-0.112,"y":-0.85,"s":3,"m":"o"},{"c":2,"x":-0.46,"y":-0.63,"s":1,"m":"o"},{"c":2,"x":-0.314,"y":-0.35,"s":2,"m":"o"},{"c":2,"x":0.07,"y":-0.12,"s":2,"m":"o"},{"c":2,"x":-0.057,"y":-0.20,"s":1,"m":"o"},
{"c":2,"x":-0.15,"y":-0.50,"s":3,"m":"o"},{"c":2,"x":-0.2,"y":-0.45,"s":4,"m":"o"},{"c":2,"x":-0.1,"y":-0.35,"s":3,"m":"o"},{"c":2,"x":-0.05,"y":-0.42,"s":3,"m":"o"},{"c":2,"x":0.0,"y":-0.35,"s":3,"m":"o"},{"c":2,"x":-0.25,"y":-0.55,"s":3,"m":"o"},{"c":2,"x":-0.17,"y":-0.72,"s":2,"m":"o"},{"c":2,"x":-0.03,"y":-0.62,"s":3,"m":"o"},{"c":2,"x":0.1,"y":-0.05,"s":3,"m":"o"},{"c":2,"x":0.15,"y":0.1,"s":3,"m":"o"},{"c":2,"x":-0.05,"y":0.05,"s":2,"m":"o"},{"c":2,"x":-0.35,"y":-0.28,"s":2,"m":"o"},{"c":2,"x":0.05,"y":-0.45,"s":2,"m":"o"},{"c":2,"x":-0.38,"y":-0.8,"s":2,"m":"o"},{"c":2,"x":0.02,"y":-0.82,"s":3,"m":"o"},
{"c":2,"x":0.126,"y":0.406,"s":2,"m":"s"},{"c":2,"x":0.383,"y":0.154,"s":2,"m":"s"},
{"c":3,"x":-0.777,"y":0.71,"s":4,"m":"o"},{"c":3,"x":-0.637,"y":0.245,"s":4,"m":"o"},{"c":3,"x":-0.74,"y":0.315,"s":4,"m":"o"},{"c":3,"x":-0.747,"y":0.104,"s":3,"m":"o"},{"c":3,"x":-0.84,"y":0.003,"s":3,"m":"o"},{"c":3,"x":-0.483,"y":0.215,"s":4,"m":"o"},{"c":3,"x":-0.44,"y":0.013,"s":4,"m":"o"},{"c":3,"x":-0.233,"y":0.013,"s":4,"m":"o"},{"c":3,"x":-0.777,"y":-0.098,"s":4,"m":"o"},{"c":3,"x":-1.21,"y":-0.25,"s":4,"m":"o"},{"c":3,"x":-1.21,"y":-0.40,"s":3,"m":"o"},{"c":3,"x":-1.136,"y":-0.41,"s":2,"m":"o"},{"c":3,"x":-1.05,"y":-0.36,"s":3,"m":"o"},{"c":3,"x":-0.85,"y":-0.30,"s":3,"m":"o"},{"c":3,"x":-0.869,"y":-0.425,"s":4,"m":"o"},{"c":3,"x":-0.887,"y":-0.626,"s":4,"m":"o"},{"c":3,"x":-0.74,"y":-0.60,"s":4,"m":"o"},{"c":3,"x":-0.703,"y":-0.198,"s":3,"m":"o"},{"c":3,"x":-0.612,"y":-0.249,"s":4,"m":"o"},{"c":3,"x":-0.52,"y":-0.249,"s":3,"m":"o"},{"c":3,"x":-0.465,"y":-0.35,"s":4,"m":"o"},{"c":3,"x":-0.446,"y":-0.60,"s":2,"m":"o"},{"c":3,"x":-0.557,"y":-0.55,"s":4,"m":"o"},{"c":3,"x":-0.63,"y":-0.40,"s":4,"m":"o"},{"c":3,"x":-0.667,"y":-0.70,"s":3,"m":"o"},{"c":3,"x":-0.593,"y":-0.777,"s":4,"m":"o"},{"c":3,"x":-0.63,"y":-0.903,"s":4,"m":"o"},{"c":3,"x":-0.72,"y":-0.98,"s":4,"m":"o"},{"c":3,"x":-0.795,"y":-1.054,"s":3,"m":"o"},{"c":3,"x":-0.887,"y":-1.004,"s":3,"m":"o"},{"c":3,"x":-0.71,"y":-1.23,"s":4,"m":"o"},{"c":3,"x":-0.637,"y":-1.256,"s":4,"m":"o"},{"c":3,"x":-0.758,"y":-0.80,"s":3,"m":"o"},{"c":3,"x":-0.575,"y":-0.098,"s":3,"m":"o"},{"c":3,"x":-0.685,"y":-0.047,"s":3,"m":"o"},{"c":3,"x":-0.667,"y":-0.50,"s":3,"m":"o"},{"c":3,"x":-0.593,"y":-0.50,"s":3,"m":"o"},{"c":3,"x":-0.72,"y":-0.40,"s":2,"m":"o"},{"c":3,"x":-0.777,"y":-0.50,"s":3,"m":"o"},{"c":3,"x":-0.538,"y":-0.40,"s":2,"m":"o"},{"c":3,"x":-0.905,"y":-0.25,"s":2,"m":"o"},
{"c":3,"x":-0.66,"y":-0.3,"s":3,"m":"o"},{"c":3,"x":-0.6,"y":-0.35,"s":4,"m":"o"},{"c":3,"x":-0.55,"y":-0.45,"s":3,"m":"o"},{"c":3,"x":-0.68,"y":-0.58,"s":3,"m":"o"},{"c":3,"x":-0.62,"y":-0.65,"s":3,"m":"o"},{"c":3,"x":-0.57,"y":-0.62,"s":2,"m":"o"},{"c":3,"x":-0.7,"y":-0.45,"s":2,"m":"o"},{"c":3,"x":-0.64,"y":-0.15,"s":3,"m":"o"},{"c":3,"x":-0.55,"y":-0.18,"s":2,"m":"o"},{"c":3,"x":-0.6,"y":0.05,"s":3,"m":"o"},{"c":3,"x":-0.52,"y":-0.7,"s":2,"m":"o"},{"c":3,"x":-0.7,"y":-0.75,"s":2,"m":"o"},{"c":3,"x":-0.62,"y":-1.05,"s":3,"m":"o"},{"c":3,"x":-0.8,"y":-0.2,"s":3,"m":"o"},{"c":3,"x":-0.5,"y":0.0,"s":2,"m":"o"},
{"c":3,"x":-0.593,"y":0.416,"s":2,"m":"s"},{"c":3,"x":-0.329,"y":0.154,"s":2,"m":"s"}
],
"lb":[
{"p":11,"x":-1.25,"y":0.87,"t":"50"},{"p":11,"x":-0.71,"y":0.87,"t":"30"},{"p":11,"x":-0.36,"y":0.26,"t":"10"},{"p":11,"x":-0.37,"y":-0.06,"t":"0"},{"p":11,"x":-0.37,"y":-0.06,"t":"2"},
{"p":12,"x":-1.43,"y":0.87,"t":"50"},{"p":12,"x":-1.0,"y":0.87,"t":"30"},{"p":12,"x":-0.64,"y":0.27,"t":"10"},{"p":12,"x":-0.61,"y":-0.06,"t":"0"},{"p":12,"x":-0.61,"y":-0.06,"t":"2"},
{"p":13,"x":-1.04,"y":0.61,"t":"10"},{"p":13,"x":-0.83,"y":0.31,"t":"0"},{"p":13,"x":-0.83,"y":0.31,"t":"2"},
{"p":21,"x":-0.57,"y":0.74,"t":"50"},{"p":21,"x":-0.40,"y":0.476,"t":"30"},{"p":21,"x":-0.365,"y":-0.345,"t":"10"},{"p":21,"x":-0.43,"y":-0.66,"t":"0"},{"p":21,"x":-0.43,"y":-0.66,"t":"2"},
{"p":22,"x":-1.085,"y":0.73,"t":"50"},{"p":22,"x":-0.70,"y":0.477,"t":"30"},{"p":22,"x":-0.24,"y":-0.345,"t":"10"},{"p":22,"x":-0.14,"y":-0.66,"t":"0"},{"p":22,"x":-0.14,"y":-0.66,"t":"2"},
{"p":23,"x":-1.10,"y":0.73,"t":"50"},{"p":23,"x":-0.70,"y":0.48,"t":"30"},{"p":23,"x":-0.245,"y":-0.345,"t":"10"},{"p":23,"x":-0.153,"y":-0.66,"t":"0"},{"p":23,"x":-0.153,"y":-0.66,"t":"2"},
{"p":31,"x":-0.567,"y":0.627,"t":"100"},{"p":31,"x":-0.413,"y":0.582,"t":"50"},{"p":31,"x":-0.384,"y":0.34,"t":"30"},{"p":31,"x":-0.465,"y":-0.506,"t":"10"},{"p":31,"x":-0.53,"y":-0.78,"t":"2"},{"p":31,"x":-0.50,"y":-0.78,"t":"0"},
{"p":32,"x":-1.133,"y":0.632,"t":"100"},{"p":32,"x":-0.608,"y":0.582,"t":"50"},{"p":32,"x":-0.307,"y":0.34,"t":"30"},{"p":32,"x":-0.039,"y":-0.506,"t":"10"},{"p":32,"x":-0.05,"y":-0.78,"t":"2"},{"p":32,"x":-0.02,"y":-0.78,"t":"0"},
{"p":33,"x":-1.144,"y":0.632,"t":"100"},{"p":33,"x":-0.612,"y":0.582,"t":"50"},{"p":33,"x":-0.318,"y":0.34,"t":"30"},{"p":33,"x":-0.05,"y":-0.506,"t":"10"},{"p":33,"x":-0.065,"y":-0.78,"t":"2"},{"p":33,"x":-0.035,"y":-0.78,"t":"0"},
{"p":41,"x":-0.55,"y":0.58,"t":"100"},{"p":41,"x":-0.42,"y":0.547,"t":"50"},{"p":41,"x":-0.413,"y":0.295,"t":"30"},{"p":41,"x":-0.51,"y":-0.546,"t":"10"},{"p":41,"x":-0.57,"y":-0.81,"t":"2"},{"p":41,"x":-0.51,"y":-0.81,"t":"0"},
{"p":42,"x":-0.828,"y":0.597,"t":"100"},{"p":42,"x":-0.432,"y":0.547,"t":"50"},{"p":42,"x":-0.233,"y":0.295,"t":"30"},{"p":42,"x":-0.094,"y":-0.546,"t":"10"},{"p":42,"x":-0.095,"y":-0.79,"t":"2"},{"p":42,"x":-0.035,"y":-0.79,"t":"0"},
{"p":43,"x":-0.832,"y":0.597,"t":"100"},{"p":43,"x":-0.439,"y":0.547,"t":"50"},{"p":43,"x":-0.233,"y":0.295,"t":"30"},{"p":43,"x":-0.098,"y":-0.52,"t":"10"},{"p":43,"x":-0.09,"y":-0.79,"t":"2"},{"p":43,"x":-0.03,"y":-0.79,"t":"0"}
]
},
"vconcat":[
{"hconcat":[
{"width":182,"height":199,"encoding":{"x":{"field":"x","type":"quantitative","scale":{"domain":[-1.5,0.5],"nice":false,"zero":false},"axis":{"values":[-1.5,-1,-0.5,0,0.5],"format":".1f","title":"Log₁₀ ([NII]λ6583/Hα)"}},"y":{"field":"y","type":"quantitative","scale":{"domain":[-2,1],"nice":false,"zero":false},"axis":{"values":[-2,-1.5,-1,-0.5,0,0.5,1],"format":".1f","title":"Log₁₀ ([OIII]/Hβ)"}}},
"layer":[
{"data":{"name":"cv"},"transform":[{"filter":"datum.c==1 && datum.t=='ke'"}],"mark":{"type":"line","color":"black","strokeWidth":1.5,"clip":true},"encoding":{}},
{"data":{"name":"cv"},"transform":[{"filter":"datum.c==1 && datum.t=='ka'"}],"mark":{"type":"line","color":"black","strokeWidth":1.5,"clip":true,"strokeDash":[5.5,2.4]},"encoding":{}},
{"data":{"name":"gr"},"transform":[{"filter":"datum.p==11"}],"mark":{"type":"line","color":"#666666","strokeWidth":0.7,"clip":true},"encoding":{"detail":{"field":"i","type":"nominal"},"order":{"field":"k","type":"quantitative"}}},
{"data":{"name":"ga"},"transform":[{"filter":"datum.c==1"}],"mark":{"type":"point","filled":true,"clip":true,"color":"#909090","opacity":0.5,"strokeWidth":0},"encoding":{"size":{"field":"s","type":"quantitative","scale":{"type":"linear","domain":[1,4],"range":[10,95],"zero":false},"legend":null},"shape":{"field":"m","type":"nominal","scale":{"domain":["o","s"],"range":["circle","M0,-1L0.2245,-0.309L0.951,-0.309L0.363,0.118L0.588,0.809L0,0.382L-0.588,0.809L-0.363,0.118L-0.951,-0.309L-0.2245,-0.309Z"]},"legend":null}}},
{"data":{"name":"gr"},"transform":[{"filter":"datum.p==11"}],"mark":{"type":"line","strokeWidth":2.5,"clip":true},"encoding":{"color":{"field":"k","type":"ordinal","scale":{"domain":[0,2,10,30,50,100],"range":["#9400d3","#ff1493","#ff69b4","#cd5c5c","#fa8072","#ff0000"]},"legend":null},"order":{"field":"i","type":"quantitative"}}},
{"data":{"name":"gr"},"transform":[{"filter":"datum.p==11"}],"mark":{"type":"circle","size":16,"opacity":1,"clip":true},"encoding":{"color":{"field":"k","type":"ordinal","scale":{"domain":[0,2,10,30,50,100],"range":["#9400d3","#ff1493","#ff69b4","#cd5c5c","#fa8072","#ff0000"]},"legend":null}}},
{"data":{"name":"lb"},"transform":[{"filter":"datum.p==11"}],"mark":{"type":"text","fontSize":10,"clip":true,"color":"black","baseline":"middle"},"encoding":{"text":{"field":"t","type":"nominal"}}}
]},
{"width":182,"height":199,"encoding":{"x":{"field":"x","type":"quantitative","scale":{"domain":[-1.5,0.5],"nice":false,"zero":false},"axis":{"values":[-1.5,-1,-0.5,0,0.5],"labelExpr":"datum.value==-1.5?'0.5':datum.value==-1?'-0.1':datum.value==-0.5?'-0.5':format(datum.value,'.1f')","title":"Log₁₀ ([SII]/Hα)"}},"y":{"field":"y","type":"quantitative","scale":{"domain":[-2,1],"nice":false,"zero":false},"axis":{"values":[-2,-1.5,-1,-0.5,0,0.5,1],"labels":false,"title":null}}},
"layer":[
{"data":{"name":"cv"},"transform":[{"filter":"datum.c==2"}],"mark":{"type":"line","color":"black","strokeWidth":1.5,"clip":true},"encoding":{}},
{"data":{"name":"gr"},"transform":[{"filter":"datum.p==12"}],"mark":{"type":"line","color":"#666666","strokeWidth":0.7,"clip":true},"encoding":{"detail":{"field":"i","type":"nominal"},"order":{"field":"k","type":"quantitative"}}},
{"data":{"name":"ga"},"transform":[{"filter":"datum.c==2"}],"mark":{"type":"point","filled":true,"clip":true,"color":"#909090","opacity":0.5,"strokeWidth":0},"encoding":{"size":{"field":"s","type":"quantitative","scale":{"type":"linear","domain":[1,4],"range":[10,95],"zero":false},"legend":null},"shape":{"field":"m","type":"nominal","scale":{"domain":["o","s"],"range":["circle","M0,-1L0.2245,-0.309L0.951,-0.309L0.363,0.118L0.588,0.809L0,0.382L-0.588,0.809L-0.363,0.118L-0.951,-0.309L-0.2245,-0.309Z"]},"legend":null}}},
{"data":{"name":"gr"},"transform":[{"filter":"datum.p==12"}],"mark":{"type":"line","strokeWidth":2.5,"clip":true},"encoding":{"color":{"field":"k","type":"ordinal","scale":{"domain":[0,2,10,30,50,100],"range":["#9400d3","#ff1493","#ff69b4","#cd5c5c","#fa8072","#ff0000"]},"legend":null},"order":{"field":"i","type":"quantitative"}}},
{"data":{"name":"gr"},"transform":[{"filter":"datum.p==12"}],"mark":{"type":"circle","size":16,"opacity":1,"clip":true},"encoding":{"color":{"field":"k","type":"ordinal","scale":{"domain":[0,2,10,30,50,100],"range":["#9400d3","#ff1493","#ff69b4","#cd5c5c","#fa8072","#ff0000"]},"legend":null}}},
{"data":{"name":"lb"},"transform":[{"filter":"datum.p==12"}],"mark":{"type":"text","fontSize":10,"clip":true,"color":"black","baseline":"middle"},"encoding":{"text":{"field":"t","type":"nominal"}}}
]},
{"width":182,"height":199,"encoding":{"x":{"field":"x","type":"quantitative","scale":{"domain":[-1.5,0.5],"nice":false,"zero":false},"axis":{"values":[-1.5,-1,-0.5,0,0.5],"labelExpr":"datum.value==-1.5?'0.5':datum.value==-1?'-0.1':datum.value==-0.5?'-0.5':format(datum.value,'.1f')","title":"Log₁₀ ([OI]/Hα)"}},"y":{"field":"y","type":"quantitative","scale":{"domain":[-2,1],"nice":false,"zero":false},"axis":{"values":[-2,-1.5,-1,-0.5,0,0.5,1],"labels":false,"title":null}}},
"layer":[
{"data":{"name":"cv"},"transform":[{"filter":"datum.c==3"}],"mark":{"type":"line","color":"black","strokeWidth":1.5,"clip":true},"encoding":{}},
{"data":{"name":"gr"},"transform":[{"filter":"datum.p==13"}],"mark":{"type":"line","color":"#666666","strokeWidth":0.7,"clip":true},"encoding":{"detail":{"field":"i","type":"nominal"},"order":{"field":"k","type":"quantitative"}}},
{"data":{"name":"ga"},"transform":[{"filter":"datum.c==3"}],"mark":{"type":"point","filled":true,"clip":true,"color":"#909090","opacity":0.5,"strokeWidth":0},"encoding":{"size":{"field":"s","type":"quantitative","scale":{"type":"linear","domain":[1,4],"range":[10,95],"zero":false},"legend":null},"shape":{"field":"m","type":"nominal","scale":{"domain":["o","s"],"range":["circle","M0,-1L0.2245,-0.309L0.951,-0.309L0.363,0.118L0.588,0.809L0,0.382L-0.588,0.809L-0.363,0.118L-0.951,-0.309L-0.2245,-0.309Z"]},"legend":null}}},
{"data":{"name":"gr"},"transform":[{"filter":"datum.p==13"}],"mark":{"type":"line","strokeWidth":2.5,"clip":true},"encoding":{"color":{"field":"k","type":"ordinal","scale":{"domain":[0,2,10,30,50,100],"range":["#9400d3","#ff1493","#ff69b4","#cd5c5c","#fa8072","#ff0000"]},"legend":null},"order":{"field":"i","type":"quantitative"}}},
{"data":{"name":"gr"},"transform":[{"filter":"datum.p==13"}],"mark":{"type":"circle","size":16,"opacity":1,"clip":true},"encoding":{"color":{"field":"k","type":"ordinal","scale":{"domain":[0,2,10,30,50,100],"range":["#9400d3","#ff1493","#ff69b4","#cd5c5c","#fa8072","#ff0000"]},"legend":null}}},
{"data":{"name":"lb"},"transform":[{"filter":"datum.p==13"}],"mark":{"type":"text","fontSize":10,"clip":true,"color":"black","baseline":"middle"},"encoding":{"text":{"field":"t","type":"nominal"}}}
]}
],"spacing":0,"bounds":"flush"},
{"hconcat":[
{"width":182,"height":199,"encoding":{"x":{"field":"x","type":"quantitative","scale":{"domain":[-1.5,0.5],"nice":false,"zero":false},"axis":{"values":[-1.5,-1,-0.5,0,0.5],"format":".1f","title":"Log₁₀ ([NII]λ6583/Hα)"}},"y":{"field":"y","type":"quantitative","scale":{"domain":[-2,1],"nice":false,"zero":false},"axis":{"values":[-2,-1.5,-1,-0.5,0,0.5,1],"format":".1f","title":"Log₁₀ ([OIII]/Hβ)"}}},
"layer":[
{"data":{"name":"cv"},"transform":[{"filter":"datum.c==1 && datum.t=='ke'"}],"mark":{"type":"line","color":"black","strokeWidth":1.5,"clip":true},"encoding":{}},
{"data":{"name":"cv"},"transform":[{"filter":"datum.c==1 && datum.t=='ka'"}],"mark":{"type":"line","color":"black","strokeWidth":1.5,"clip":true,"strokeDash":[5.5,2.4]},"encoding":{}},
{"data":{"name":"gr"},"transform":[{"filter":"datum.p==21"}],"mark":{"type":"line","color":"#666666","strokeWidth":0.7,"clip":true},"encoding":{"detail":{"field":"i","type":"nominal"},"order":{"field":"k","type":"quantitative"}}},
{"data":{"name":"ga"},"transform":[{"filter":"datum.c==1"}],"mark":{"type":"point","filled":true,"clip":true,"color":"#909090","opacity":0.5,"strokeWidth":0},"encoding":{"size":{"field":"s","type":"quantitative","scale":{"type":"linear","domain":[1,4],"range":[10,95],"zero":false},"legend":null},"shape":{"field":"m","type":"nominal","scale":{"domain":["o","s"],"range":["circle","M0,-1L0.2245,-0.309L0.951,-0.309L0.363,0.118L0.588,0.809L0,0.382L-0.588,0.809L-0.363,0.118L-0.951,-0.309L-0.2245,-0.309Z"]},"legend":null}}},
{"data":{"name":"gr"},"transform":[{"filter":"datum.p==21"}],"mark":{"type":"line","strokeWidth":2.5,"clip":true},"encoding":{"color":{"field":"k","type":"ordinal","scale":{"domain":[0,2,10,30,50,100],"range":["#9400d3","#ff1493","#ff69b4","#cd5c5c","#fa8072","#ff0000"]},"legend":null},"order":{"field":"i","type":"quantitative"}}},
{"data":{"name":"gr"},"transform":[{"filter":"datum.p==21"}],"mark":{"type":"circle","size":16,"opacity":1,"clip":true},"encoding":{"color":{"field":"k","type":"ordinal","scale":{"domain":[0,2,10,30,50,100],"range":["#9400d3","#ff1493","#ff69b4","#cd5c5c","#fa8072","#ff0000"]},"legend":null}}},
{"data":{"name":"lb"},"transform":[{"filter":"datum.p==21"}],"mark":{"type":"text","fontSize":10,"clip":true,"color":"black","baseline":"middle"},"encoding":{"text":{"field":"t","type":"nominal"}}}
]},
{"width":182,"height":199,"encoding":{"x":{"field":"x","type":"quantitative","scale":{"domain":[-1.5,0.5],"nice":false,"zero":false},"axis":{"values":[-1.5,-1,-0.5,0,0.5],"labelExpr":"datum.value==-1.5?'0.5':datum.value==-1?'-0.1':datum.value==-0.5?'-0.5':format(datum.value,'.1f')","title":"Log₁₀ ([SII]/Hα)"}},"y":{"field":"y","type":"quantitative","scale":{"domain":[-2,1],"nice":false,"zero":false},"axis":{"values":[-2,-1.5,-1,-0.5,0,0.5,1],"labels":false,"title":null}}},
"layer":[
{"data":{"name":"cv"},"transform":[{"filter":"datum.c==2"}],"mark":{"type":"line","color":"black","strokeWidth":1.5,"clip":true},"encoding":{}},
{"data":{"name":"gr"},"transform":[{"filter":"datum.p==22"}],"mark":{"type":"line","color":"#666666","strokeWidth":0.7,"clip":true},"encoding":{"detail":{"field":"i","type":"nominal"},"order":{"field":"k","type":"quantitative"}}},
{"data":{"name":"ga"},"transform":[{"filter":"datum.c==2"}],"mark":{"type":"point","filled":true,"clip":true,"color":"#909090","opacity":0.5,"strokeWidth":0},"encoding":{"size":{"field":"s","type":"quantitative","scale":{"type":"linear","domain":[1,4],"range":[10,95],"zero":false},"legend":null},"shape":{"field":"m","type":"nominal","scale":{"domain":["o","s"],"range":["circle","M0,-1L0.2245,-0.309L0.951,-0.309L0.363,0.118L0.588,0.809L0,0.382L-0.588,0.809L-0.363,0.118L-0.951,-0.309L-0.2245,-0.309Z"]},"legend":null}}},
{"data":{"name":"gr"},"transform":[{"filter":"datum.p==22"}],"mark":{"type":"line","strokeWidth":2.5,"clip":true},"encoding":{"color":{"field":"k","type":"ordinal","scale":{"domain":[0,2,10,30,50,100],"range":["#9400d3","#ff1493","#ff69b4","#cd5c5c","#fa8072","#ff0000"]},"legend":null},"order":{"field":"i","type":"quantitative"}}},
{"data":{"name":"gr"},"transform":[{"filter":"datum.p==22"}],"mark":{"type":"circle","size":16,"opacity":1,"clip":true},"encoding":{"color":{"field":"k","type":"ordinal","scale":{"domain":[0,2,10,30,50,100],"range":["#9400d3","#ff1493","#ff69b4","#cd5c5c","#fa8072","#ff0000"]},"legend":null}}},
{"data":{"name":"lb"},"transform":[{"filter":"datum.p==22"}],"mark":{"type":"text","fontSize":10,"clip":true,"color":"black","baseline":"middle"},"encoding":{"text":{"field":"t","type":"nominal"}}}
]},
{"width":182,"height":199,"encoding":{"x":{"field":"x","type":"quantitative","scale":{"domain":[-1.5,0.5],"nice":false,"zero":false},"axis":{"values":[-1.5,-1,-0.5,0,0.5],"labelExpr":"datum.value==-1.5?'0.5':datum.value==-1?'-0.1':datum.value==-0.5?'-0.5':format(datum.value,'.1f')","title":"Log₁₀ ([OI]/Hα)"}},"y":{"field":"y","type":"quantitative","scale":{"domain":[-2,1],"nice":false,"zero":false},"axis":{"values":[-2,-1.5,-1,-0.5,0,0.5,1],"labels":false,"title":null}}},
"layer":[
{"data":{"name":"cv"},"transform":[{"filter":"datum.c==3"}],"mark":{"type":"line","color":"black","strokeWidth":1.5,"clip":true},"encoding":{}},
{"data":{"name":"gr"},"transform":[{"filter":"datum.p==23"}],"mark":{"type":"line","color":"#666666","strokeWidth":0.7,"clip":true},"encoding":{"detail":{"field":"i","type":"nominal"},"order":{"field":"k","type":"quantitative"}}},
{"data":{"name":"ga"},"transform":[{"filter":"datum.c==3"}],"mark":{"type":"point","filled":true,"clip":true,"color":"#909090","opacity":0.5,"strokeWidth":0},"encoding":{"size":{"field":"s","type":"quantitative","scale":{"type":"linear","domain":[1,4],"range":[10,95],"zero":false},"legend":null},"shape":{"field":"m","type":"nominal","scale":{"domain":["o","s"],"range":["circle","M0,-1L0.2245,-0.309L0.951,-0.309L0.363,0.118L0.588,0.809L0,0.382L-0.588,0.809L-0.363,0.118L-0.951,-0.309L-0.2245,-0.309Z"]},"legend":null}}},
{"data":{"name":"gr"},"transform":[{"filter":"datum.p==23"}],"mark":{"type":"line","strokeWidth":2.5,"clip":true},"encoding":{"color":{"field":"k","type":"ordinal","scale":{"domain":[0,2,10,30,50,100],"range":["#9400d3","#ff1493","#ff69b4","#cd5c5c","#fa8072","#ff0000"]},"legend":null},"order":{"field":"i","type":"quantitative"}}},
{"data":{"name":"gr"},"transform":[{"filter":"datum.p==23"}],"mark":{"type":"circle","size":16,"opacity":1,"clip":true},"encoding":{"color":{"field":"k","type":"ordinal","scale":{"domain":[0,2,10,30,50,100],"range":["#9400d3","#ff1493","#ff69b4","#cd5c5c","#fa8072","#ff0000"]},"legend":null}}},
{"data":{"name":"lb"},"transform":[{"filter":"datum.p==23"}],"mark":{"type":"text","fontSize":10,"clip":true,"color":"black","baseline":"middle"},"encoding":{"text":{"field":"t","type":"nominal"}}}
]}
],"spacing":0,"bounds":"flush"},
{"hconcat":[
{"width":182,"height":199,"encoding":{"x":{"field":"x","type":"quantitative","scale":{"domain":[-1.5,0.5],"nice":false,"zero":false},"axis":{"values":[-1.5,-1,-0.5,0,0.5],"format":".1f","title":"Log₁₀ ([NII]λ6583/Hα)"}},"y":{"field":"y","type":"quantitative","scale":{"domain":[-2,1],"nice":false,"zero":false},"axis":{"values":[-2,-1.5,-1,-0.5,0,0.5,1],"format":".1f","title":"Log₁₀ ([OIII]/Hβ)"}}},
"layer":[
{"data":{"name":"cv"},"transform":[{"filter":"datum.c==1 && datum.t=='ke'"}],"mark":{"type":"line","color":"black","strokeWidth":1.5,"clip":true},"encoding":{}},
{"data":{"name":"cv"},"transform":[{"filter":"datum.c==1 && datum.t=='ka'"}],"mark":{"type":"line","color":"black","strokeWidth":1.5,"clip":true,"strokeDash":[5.5,2.4]},"encoding":{}},
{"data":{"name":"gr"},"transform":[{"filter":"datum.p==31"}],"mark":{"type":"line","color":"#666666","strokeWidth":0.7,"clip":true},"encoding":{"detail":{"field":"i","type":"nominal"},"order":{"field":"k","type":"quantitative"}}},
{"data":{"name":"ga"},"transform":[{"filter":"datum.c==1"}],"mark":{"type":"point","filled":true,"clip":true,"color":"#909090","opacity":0.5,"strokeWidth":0},"encoding":{"size":{"field":"s","type":"quantitative","scale":{"type":"linear","domain":[1,4],"range":[10,95],"zero":false},"legend":null},"shape":{"field":"m","type":"nominal","scale":{"domain":["o","s"],"range":["circle","M0,-1L0.2245,-0.309L0.951,-0.309L0.363,0.118L0.588,0.809L0,0.382L-0.588,0.809L-0.363,0.118L-0.951,-0.309L-0.2245,-0.309Z"]},"legend":null}}},
{"data":{"name":"gr"},"transform":[{"filter":"datum.p==31"}],"mark":{"type":"line","strokeWidth":2.5,"clip":true},"encoding":{"color":{"field":"k","type":"ordinal","scale":{"domain":[0,2,10,30,50,100],"range":["#9400d3","#ff1493","#ff69b4","#cd5c5c","#fa8072","#ff0000"]},"legend":null},"order":{"field":"i","type":"quantitative"}}},
{"data":{"name":"gr"},"transform":[{"filter":"datum.p==31"}],"mark":{"type":"circle","size":16,"opacity":1,"clip":true},"encoding":{"color":{"field":"k","type":"ordinal","scale":{"domain":[0,2,10,30,50,100],"range":["#9400d3","#ff1493","#ff69b4","#cd5c5c","#fa8072","#ff0000"]},"legend":null}}},
{"data":{"name":"lb"},"transform":[{"filter":"datum.p==31"}],"mark":{"type":"text","fontSize":10,"clip":true,"color":"black","baseline":"middle"},"encoding":{"text":{"field":"t","type":"nominal"}}}
]},
{"width":182,"height":199,"encoding":{"x":{"field":"x","type":"quantitative","scale":{"domain":[-1.5,0.5],"nice":false,"zero":false},"axis":{"values":[-1.5,-1,-0.5,0,0.5],"labelExpr":"datum.value==-1.5?'0.5':datum.value==-1?'-0.1':datum.value==-0.5?'-0.5':format(datum.value,'.1f')","title":"Log₁₀ ([SII]/Hα)"}},"y":{"field":"y","type":"quantitative","scale":{"domain":[-2,1],"nice":false,"zero":false},"axis":{"values":[-2,-1.5,-1,-0.5,0,0.5,1],"labels":false,"title":null}}},
"layer":[
{"data":{"name":"cv"},"transform":[{"filter":"datum.c==2"}],"mark":{"type":"line","color":"black","strokeWidth":1.5,"clip":true},"encoding":{}},
{"data":{"name":"gr"},"transform":[{"filter":"datum.p==32"}],"mark":{"type":"line","color":"#666666","strokeWidth":0.7,"clip":true},"encoding":{"detail":{"field":"i","type":"nominal"},"order":{"field":"k","type":"quantitative"}}},
{"data":{"name":"ga"},"transform":[{"filter":"datum.c==2"}],"mark":{"type":"point","filled":true,"clip":true,"color":"#909090","opacity":0.5,"strokeWidth":0},"encoding":{"size":{"field":"s","type":"quantitative","scale":{"type":"linear","domain":[1,4],"range":[10,95],"zero":false},"legend":null},"shape":{"field":"m","type":"nominal","scale":{"domain":["o","s"],"range":["circle","M0,-1L0.2245,-0.309L0.951,-0.309L0.363,0.118L0.588,0.809L0,0.382L-0.588,0.809L-0.363,0.118L-0.951,-0.309L-0.2245,-0.309Z"]},"legend":null}}},
{"data":{"name":"gr"},"transform":[{"filter":"datum.p==32"}],"mark":{"type":"line","strokeWidth":2.5,"clip":true},"encoding":{"color":{"field":"k","type":"ordinal","scale":{"domain":[0,2,10,30,50,100],"range":["#9400d3","#ff1493","#ff69b4","#cd5c5c","#fa8072","#ff0000"]},"legend":null},"order":{"field":"i","type":"quantitative"}}},
{"data":{"name":"gr"},"transform":[{"filter":"datum.p==32"}],"mark":{"type":"circle","size":16,"opacity":1,"clip":true},"encoding":{"color":{"field":"k","type":"ordinal","scale":{"domain":[0,2,10,30,50,100],"range":["#9400d3","#ff1493","#ff69b4","#cd5c5c","#fa8072","#ff0000"]},"legend":null}}},
{"data":{"name":"lb"},"transform":[{"filter":"datum.p==32"}],"mark":{"type":"text","fontSize":10,"clip":true,"color":"black","baseline":"middle"},"encoding":{"text":{"field":"t","type":"nominal"}}}
]},
{"width":182,"height":199,"encoding":{"x":{"field":"x","type":"quantitative","scale":{"domain":[-1.5,0.5],"nice":false,"zero":false},"axis":{"values":[-1.5,-1,-0.5,0,0.5],"labelExpr":"datum.value==-1.5?'0.5':datum.value==-1?'-0.1':datum.value==-0.5?'-0.5':format(datum.value,'.1f')","title":"Log₁₀ ([OI]/Hα)"}},"y":{"field":"y","type":"quantitative","scale":{"domain":[-2,1],"nice":false,"zero":false},"axis":{"values":[-2,-1.5,-1,-0.5,0,0.5,1],"labels":false,"title":null}}},
"layer":[
{"data":{"name":"cv"},"transform":[{"filter":"datum.c==3"}],"mark":{"type":"line","color":"black","strokeWidth":1.5,"clip":true},"encoding":{}},
{"data":{"name":"gr"},"transform":[{"filter":"datum.p==33"}],"mark":{"type":"line","color":"#666666","strokeWidth":0.7,"clip":true},"encoding":{"detail":{"field":"i","type":"nominal"},"order":{"field":"k","type":"quantitative"}}},
{"data":{"name":"ga"},"transform":[{"filter":"datum.c==3"}],"mark":{"type":"point","filled":true,"clip":true,"color":"#909090","opacity":0.5,"strokeWidth":0},"encoding":{"size":{"field":"s","type":"quantitative","scale":{"type":"linear","domain":[1,4],"range":[10,95],"zero":false},"legend":null},"shape":{"field":"m","type":"nominal","scale":{"domain":["o","s"],"range":["circle","M0,-1L0.2245,-0.309L0.951,-0.309L0.363,0.118L0.588,0.809L0,0.382L-0.588,0.809L-0.363,0.118L-0.951,-0.309L-0.2245,-0.309Z"]},"legend":null}}},
{"data":{"name":"gr"},"transform":[{"filter":"datum.p==33"}],"mark":{"type":"line","strokeWidth":2.5,"clip":true},"encoding":{"color":{"field":"k","type":"ordinal","scale":{"domain":[0,2,10,30,50,100],"range":["#9400d3","#ff1493","#ff69b4","#cd5c5c","#fa8072","#ff0000"]},"legend":null},"order":{"field":"i","type":"quantitative"}}},
{"data":{"name":"gr"},"transform":[{"filter":"datum.p==33"}],"mark":{"type":"circle","size":16,"opacity":1,"clip":true},"encoding":{"color":{"field":"k","type":"ordinal","scale":{"domain":[0,2,10,30,50,100],"range":["#9400d3","#ff1493","#ff69b4","#cd5c5c","#fa8072","#ff0000"]},"legend":null}}},
{"data":{"name":"lb"},"transform":[{"filter":"datum.p==33"}],"mark":{"type":"text","fontSize":10,"clip":true,"color":"black","baseline":"middle"},"encoding":{"text":{"field":"t","type":"nominal"}}}
]}
],"spacing":0,"bounds":"flush"},
{"hconcat":[
{"width":182,"height":199,"encoding":{"x":{"field":"x","type":"quantitative","scale":{"domain":[-1.5,0.5],"nice":false,"zero":false},"axis":{"values":[-1.5,-1,-0.5,0,0.5],"format":".1f","title":"Log₁₀ ([NII]λ6583/Hα)"}},"y":{"field":"y","type":"quantitative","scale":{"domain":[-2,1],"nice":false,"zero":false},"axis":{"values":[-2,-1.5,-1,-0.5,0,0.5,1],"format":".1f","title":"Log₁₀ ([OIII]/Hβ)"}}},
"layer":[
{"data":{"name":"cv"},"transform":[{"filter":"datum.c==1 && datum.t=='ka'"}],"mark":{"type":"line","color":"black","strokeWidth":1.5,"clip":true},"encoding":{}},
{"data":{"name":"cv"},"transform":[{"filter":"datum.c==1 && datum.t=='ke'"}],"mark":{"type":"line","color":"black","strokeWidth":1.5,"clip":true,"strokeDash":[5.5,2.4]},"encoding":{}},
{"data":{"name":"gr"},"transform":[{"filter":"datum.p==41"}],"mark":{"type":"line","color":"#666666","strokeWidth":0.7,"clip":true},"encoding":{"detail":{"field":"i","type":"nominal"},"order":{"field":"k","type":"quantitative"}}},
{"data":{"name":"ga"},"transform":[{"filter":"datum.c==1"}],"mark":{"type":"point","filled":true,"clip":true,"color":"#909090","opacity":0.5,"strokeWidth":0},"encoding":{"size":{"field":"s","type":"quantitative","scale":{"type":"linear","domain":[1,4],"range":[10,95],"zero":false},"legend":null},"shape":{"field":"m","type":"nominal","scale":{"domain":["o","s"],"range":["circle","M0,-1L0.2245,-0.309L0.951,-0.309L0.363,0.118L0.588,0.809L0,0.382L-0.588,0.809L-0.363,0.118L-0.951,-0.309L-0.2245,-0.309Z"]},"legend":null}}},
{"data":{"name":"gr"},"transform":[{"filter":"datum.p==41"}],"mark":{"type":"line","strokeWidth":2.5,"clip":true},"encoding":{"color":{"field":"k","type":"ordinal","scale":{"domain":[0,2,10,30,50,100],"range":["#9400d3","#ff1493","#ff69b4","#cd5c5c","#fa8072","#ff0000"]},"legend":null},"order":{"field":"i","type":"quantitative"}}},
{"data":{"name":"gr"},"transform":[{"filter":"datum.p==41"}],"mark":{"type":"circle","size":16,"opacity":1,"clip":true},"encoding":{"color":{"field":"k","type":"ordinal","scale":{"domain":[0,2,10,30,50,100],"range":["#9400d3","#ff1493","#ff69b4","#cd5c5c","#fa8072","#ff0000"]},"legend":null}}},
{"data":{"name":"lb"},"transform":[{"filter":"datum.p==41"}],"mark":{"type":"text","fontSize":10,"clip":true,"color":"black","baseline":"middle"},"encoding":{"text":{"field":"t","type":"nominal"}}}
]},
{"width":182,"height":199,"encoding":{"x":{"field":"x","type":"quantitative","scale":{"domain":[-1.5,0.5],"nice":false,"zero":false},"axis":{"values":[-1.5,-1,-0.5,0,0.5],"labelExpr":"datum.value==-1.5?'0.5':datum.value==-1?'-0.1':datum.value==-0.5?'-0.5':format(datum.value,'.1f')","title":"Log₁₀ ([SII]/Hα)"}},"y":{"field":"y","type":"quantitative","scale":{"domain":[-2,1],"nice":false,"zero":false},"axis":{"values":[-2,-1.5,-1,-0.5,0,0.5,1],"labels":false,"title":null}}},
"layer":[
{"data":{"name":"cv"},"transform":[{"filter":"datum.c==2"}],"mark":{"type":"line","color":"black","strokeWidth":1.5,"clip":true},"encoding":{}},
{"data":{"name":"gr"},"transform":[{"filter":"datum.p==42"}],"mark":{"type":"line","color":"#666666","strokeWidth":0.7,"clip":true},"encoding":{"detail":{"field":"i","type":"nominal"},"order":{"field":"k","type":"quantitative"}}},
{"data":{"name":"ga"},"transform":[{"filter":"datum.c==2"}],"mark":{"type":"point","filled":true,"clip":true,"color":"#909090","opacity":0.5,"strokeWidth":0},"encoding":{"size":{"field":"s","type":"quantitative","scale":{"type":"linear","domain":[1,4],"range":[10,95],"zero":false},"legend":null},"shape":{"field":"m","type":"nominal","scale":{"domain":["o","s"],"range":["circle","M0,-1L0.2245,-0.309L0.951,-0.309L0.363,0.118L0.588,0.809L0,0.382L-0.588,0.809L-0.363,0.118L-0.951,-0.309L-0.2245,-0.309Z"]},"legend":null}}},
{"data":{"name":"gr"},"transform":[{"filter":"datum.p==42"}],"mark":{"type":"line","strokeWidth":2.5,"clip":true},"encoding":{"color":{"field":"k","type":"ordinal","scale":{"domain":[0,2,10,30,50,100],"range":["#9400d3","#ff1493","#ff69b4","#cd5c5c","#fa8072","#ff0000"]},"legend":null},"order":{"field":"i","type":"quantitative"}}},
{"data":{"name":"gr"},"transform":[{"filter":"datum.p==42"}],"mark":{"type":"circle","size":16,"opacity":1,"clip":true},"encoding":{"color":{"field":"k","type":"ordinal","scale":{"domain":[0,2,10,30,50,100],"range":["#9400d3","#ff1493","#ff69b4","#cd5c5c","#fa8072","#ff0000"]},"legend":null}}},
{"data":{"name":"lb"},"transform":[{"filter":"datum.p==42"}],"mark":{"type":"text","fontSize":10,"clip":true,"color":"black","baseline":"middle"},"encoding":{"text":{"field":"t","type":"nominal"}}}
]},
{"width":182,"height":199,"encoding":{"x":{"field":"x","type":"quantitative","scale":{"domain":[-1.5,0.5],"nice":false,"zero":false},"axis":{"values":[-1.5,-1,-0.5,0,0.5],"labelExpr":"datum.value==-1.5?'0.5':datum.value==-1?'-0.1':datum.value==-0.5?'-0.5':format(datum.value,'.1f')","title":"Log₁₀ ([OI]/Hα)"}},"y":{"field":"y","type":"quantitative","scale":{"domain":[-2,1],"nice":false,"zero":false},"axis":{"values":[-2,-1.5,-1,-0.5,0,0.5,1],"labels":false,"title":null}}},
"layer":[
{"data":{"name":"cv"},"transform":[{"filter":"datum.c==3"}],"mark":{"type":"line","color":"black","strokeWidth":1.5,"clip":true},"encoding":{}},
{"data":{"name":"gr"},"transform":[{"filter":"datum.p==43"}],"mark":{"type":"line","color":"#666666","strokeWidth":0.7,"clip":true},"encoding":{"detail":{"field":"i","type":"nominal"},"order":{"field":"k","type":"quantitative"}}},
{"data":{"name":"ga"},"transform":[{"filter":"datum.c==3"}],"mark":{"type":"point","filled":true,"clip":true,"color":"#909090","opacity":0.5,"strokeWidth":0},"encoding":{"size":{"field":"s","type":"quantitative","scale":{"type":"linear","domain":[1,4],"range":[10,95],"zero":false},"legend":null},"shape":{"field":"m","type":"nominal","scale":{"domain":["o","s"],"range":["circle","M0,-1L0.2245,-0.309L0.951,-0.309L0.363,0.118L0.588,0.809L0,0.382L-0.588,0.809L-0.363,0.118L-0.951,-0.309L-0.2245,-0.309Z"]},"legend":null}}},
{"data":{"name":"gr"},"transform":[{"filter":"datum.p==43"}],"mark":{"type":"line","strokeWidth":2.5,"clip":true},"encoding":{"color":{"field":"k","type":"ordinal","scale":{"domain":[0,2,10,30,50,100],"range":["#9400d3","#ff1493","#ff69b4","#cd5c5c","#fa8072","#ff0000"]},"legend":null},"order":{"field":"i","type":"quantitative"}}},
{"data":{"name":"gr"},"transform":[{"filter":"datum.p==43"}],"mark":{"type":"circle","size":16,"opacity":1,"clip":true},"encoding":{"color":{"field":"k","type":"ordinal","scale":{"domain":[0,2,10,30,50,100],"range":["#9400d3","#ff1493","#ff69b4","#cd5c5c","#fa8072","#ff0000"]},"legend":null}}},
{"data":{"name":"lb"},"transform":[{"filter":"datum.p==43"}],"mark":{"type":"text","fontSize":10,"clip":true,"color":"black","baseline":"middle"},"encoding":{"text":{"field":"t","type":"nominal"}}}
]}
],"spacing":0,"bounds":"flush"}
],
"spacing":31
}
